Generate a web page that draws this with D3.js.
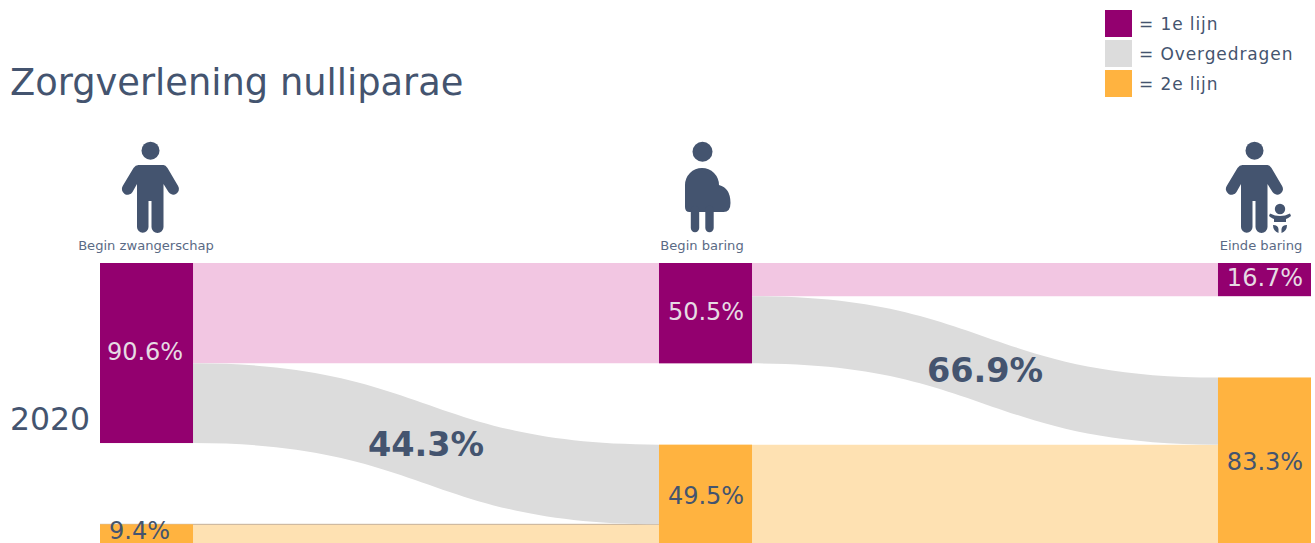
<!DOCTYPE html>
<html>
<head>
<meta charset="utf-8">
<script src="https://cdnjs.cloudflare.com/ajax/libs/d3/7.8.5/d3.min.js"></script>
<style>
  html, body { margin: 0; padding: 0; background: #fff; overflow: hidden; }
  svg { display: block; }
  text { font-family: "DejaVu Sans", sans-serif; fill: #44546f; }
</style>
</head>
<body>
<script>
// Values
const stages = ['Begin zwangerschap', 'Begin baring', 'Einde baring'];
const firstLine = [90.6, 50.5, 16.7];
const secondLine = [9.4, 49.5, 83.3];
const transferred = [44.3, 66.9];
const legendLabels = ['= 1e lijn', '= Overgedragen', '= 2e lijn'];
const yearLabel = '2020';
const titleText = 'Zorgverlening nulliparae';

const svgWidth = 1315;
const svgHeight = 543;
const purple = '#93006f';
const grey = '#dcdcdc';
const orange = '#ffb340';
const lightPurple = '#f2c6e2';
const lightOrange = '#fee1b2';
const ink = '#44546f';

// 100% of the patients plus the white gap between the two nodes of a column
const yMax = 140.9;

const svg = d3.select('body')
  .append('svg')
  .attr('width', svgWidth)
  .attr('height', svgHeight);

const xScale = d3.scaleBand()
  .domain(stages)
  .range([100, 1311])
  .paddingInner(0.8336);

const yScale = d3.scaleLinear()
  .domain([0, yMax])
  .range([263, 543]);

const bw = xScale.bandwidth();

// Bands between columns
const area = d3.area()
  .x(d => d.x)
  .y0(d => yScale(d.y0))
  .y1(d => yScale(d.y1))
  .curve(d3.curveBumpX);

const flatFlows = [];
const greyFlows = [];
transferred.forEach((pct, i) => {
  const x0 = xScale(stages[i]) + bw;
  const x1 = xScale(stages[i + 1]);
  const width = firstLine[i] - firstLine[i + 1];
  const targetTop = yMax - secondLine[i + 1];
  flatFlows.push({ color: lightPurple, pts: [
    { x: x0, y0: 0, y1: firstLine[i + 1] },
    { x: x1, y0: 0, y1: firstLine[i + 1] }
  ] });
  flatFlows.push({ color: lightOrange, pts: [
    { x: x0, y0: yMax - secondLine[i], y1: yMax },
    { x: x1, y0: yMax - secondLine[i], y1: yMax }
  ] });
  greyFlows.push({ color: grey, pts: [
    { x: x0, y0: firstLine[i + 1], y1: firstLine[i] },
    { x: x1, y0: targetTop, y1: targetTop + width }
  ] });
});

svg.selectAll('.flow-flat')
  .data(flatFlows)
  .enter()
  .append('path')
  .attr('class', 'flow-flat')
  .attr('fill', d => d.color)
  .attr('d', d => area(d.pts));

// Thin seam on top of the small orange band, it runs under the grey band
svg.append('line')
  .attr('x1', xScale(stages[0]))
  .attr('x2', xScale(stages[1]))
  .attr('y1', yScale(yMax - secondLine[0]))
  .attr('y2', yScale(yMax - secondLine[0]))
  .attr('stroke', '#c4b09a')
  .attr('stroke-width', 1);

svg.selectAll('.flow-grey')
  .data(greyFlows)
  .enter()
  .append('path')
  .attr('class', 'flow-grey')
  .attr('fill', d => d.color)
  .attr('d', d => area(d.pts));

// Nodes
svg.selectAll('.node-first')
  .data(firstLine)
  .enter()
  .append('rect')
  .attr('class', 'node-first')
  .attr('x', (d, i) => xScale(stages[i]))
  .attr('y', yScale(0))
  .attr('width', bw)
  .attr('height', d => yScale(d) - yScale(0))
  .attr('fill', purple);

svg.selectAll('.node-second')
  .data(secondLine)
  .enter()
  .append('rect')
  .attr('class', 'node-second')
  .attr('x', (d, i) => xScale(stages[i]))
  .attr('y', d => yScale(yMax - d))
  .attr('width', bw)
  .attr('height', d => yScale(yMax) - yScale(yMax - d))
  .attr('fill', orange);

// Node labels
const pct = d => d.toFixed(1) + '%';

svg.selectAll('.label-first')
  .data(firstLine)
  .enter()
  .append('text')
  .attr('class', 'label-first')
  .attr('x', (d, i) => xScale(stages[i]) + bw / 2 + (i === 0 ? -1.5 : 0.5))
  .attr('y', d => yScale(d / 2) - 2)
  .attr('dy', '0.36em')
  .attr('text-anchor', 'middle')
  .attr('font-size', 24)
  .style('fill', '#e6dbe4')
  .text(pct);

// The lowest label would fall off the page, so it is held back
svg.selectAll('.label-second')
  .data(secondLine)
  .enter()
  .append('text')
  .attr('class', 'label-second')
  .attr('x', (d, i) => xScale(stages[i]) + bw / 2 + (i === 0 ? -7 : 0.5))
  .attr('y', d => Math.min(yScale(yMax - d / 2) + 1.5, 530))
  .attr('dy', '0.36em')
  .attr('text-anchor', 'middle')
  .attr('font-size', 24)
  .text(pct);

svg.selectAll('.label-transfer')
  .data(transferred)
  .enter()
  .append('text')
  .attr('class', 'label-transfer')
  .attr('x', (d, i) => (xScale(stages[i]) + bw + xScale(stages[i + 1])) / 2)
  .attr('y', (d, i) => {
    const width = firstLine[i] - firstLine[i + 1];
    const source = firstLine[i + 1] + width / 2;
    const target = yMax - secondLine[i + 1] + width / 2;
    return yScale((source + target) / 2);
  })
  .attr('dy', '0.36em')
  .attr('text-anchor', 'middle')
  .attr('font-size', 33.5)
  .attr('font-weight', 'bold')
  .text(pct);

// Title, year and stage captions
svg.append('text')
  .attr('x', 10)
  .attr('y', 95)
  .attr('font-size', 36.8)
  .text(titleText);

svg.append('text')
  .attr('x', 10)
  .attr('y', 430)
  .attr('font-size', 31.5)
  .text(yearLabel);

svg.selectAll('.stage')
  .data(stages)
  .enter()
  .append('text')
  .attr('class', 'stage')
  .attr('x', (d, i) => xScale(d) + bw / 2 - (i === 0 ? 0.5 : 3.5))
  .attr('y', 250)
  .attr('text-anchor', 'middle')
  .attr('font-size', 13.1)
  .style('fill', '#5a6a85')
  .text(d => d);

// Legend
const legend = svg.selectAll('.legend')
  .data(legendLabels)
  .enter()
  .append('g')
  .attr('class', 'legend')
  .attr('transform', (d, i) => `translate(1105,${10 + i * 30})`);

legend.append('rect')
  .attr('width', 27)
  .attr('height', 27)
  .attr('fill', (d, i) => [purple, grey, orange][i]);

legend.append('text')
  .attr('x', 34)
  .attr('y', 20)
  .attr('font-size', 17)
  .style('letter-spacing', '0.9px')
  .text(d => d);

// Icons, drawn around the centre line of each column
const personPath = 'M-15.5,165 H13 Q15,165 17,168 L27.6,186 A5.6,5.6 0 0 1 18,192 L13,184 V227 A5.5,5.5 0 0 1 1,227 V201 H-2 V227 A5.5,5.5 0 0 1 -13.5,227 V184 L-18,192 A5.6,5.6 0 0 1 -27.8,186 L-17,168 Q-15,165 -12,165 Z';

function drawPerson(cx) {
  const g = svg.append('g').attr('transform', `translate(${cx},0)`).attr('fill', ink);
  g.append('circle').attr('cy', 150.7).attr('r', 9);
  g.append('path').attr('d', personPath);
  return g;
}

drawPerson(150.5);

// Pregnant figure
const pregnant = svg.append('g').attr('transform', 'translate(702.5,0)').attr('fill', ink);
pregnant.append('circle').attr('cy', 151.7).attr('r', 10);
pregnant.append('path').attr('d', 'M-17.5,185 A17,17 0 0 1 16.5,185 Q28,188 28,203 Q28,212 21,212 H-13 Q-17.5,212 -17.5,207 Z');
pregnant.append('line').attr('x1', -7.5).attr('x2', -7.5).attr('y1', 210).attr('y2', 228)
  .attr('stroke', ink).attr('stroke-width', 8.4).attr('stroke-linecap', 'round');
pregnant.append('line').attr('x1', 7).attr('x2', 7).attr('y1', 210).attr('y2', 228)
  .attr('stroke', ink).attr('stroke-width', 8.4).attr('stroke-linecap', 'round');

// Parent with baby
drawPerson(1254.5);
const baby = svg.append('g').attr('transform', 'translate(1280,0)').attr('fill', ink);
baby.append('circle').attr('cy', 209).attr('r', 5.2);
baby.append('path').attr('d', 'M-10,213.5 Q-5,216 0,216 Q5,216 10,213.5 L11,216 Q8,218.5 6,219 V222 H-6 V219 Q-8,218.5 -11,216 Z');
baby.append('path').attr('d', 'M-1.5,233 Q-7,231 -7,225 Q-2,225 -1.5,229 Z');
baby.append('path').attr('d', 'M1.5,233 Q7,231 7,225 Q2,225 1.5,229 Z');
</script>
</body>
</html>
